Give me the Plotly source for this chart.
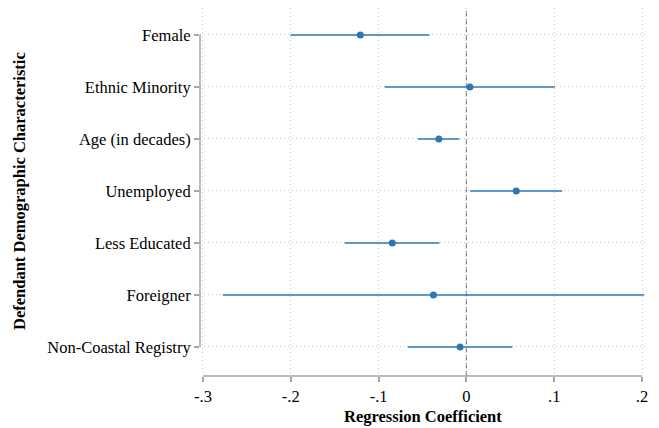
import plotly.graph_objects as go

categories = ["Female", "Ethnic Minority", "Age (in decades)", "Unemployed",
              "Less Educated", "Foreigner", "Non-Coastal Registry"]
estimates = [-0.1208, 0.0040, -0.0314, 0.0568, -0.0844, -0.0375, -0.0072]
ci_low = [-0.2003, -0.0930, -0.0553, 0.0042, -0.1386, -0.2773, -0.0670]
ci_high = [-0.0420, 0.1008, -0.0080, 0.1090, -0.0307, 0.2023, 0.0523]
x_ticks = [-0.3, -0.2, -0.1, 0.0, 0.1, 0.2]
x_tick_labels = ["-.3", "-.2", "-.1", "0", ".1", ".2"]

ypos = list(range(len(categories)))
blue = "#2a78b6"
axis_gray = "#a6a6a6"
font_family = "Liberation Serif, Times New Roman, serif"

fig = go.Figure()
fig.add_trace(go.Scatter(
    x=estimates, y=ypos, mode="markers",
    marker=dict(color=blue, size=7),
    error_x=dict(type="data", symmetric=False,
                 array=[h - e for h, e in zip(ci_high, estimates)],
                 arrayminus=[e - l for e, l in zip(estimates, ci_low)],
                 color=blue, thickness=1.5, width=0),
    showlegend=False, cliponaxis=True,
))

fig.update_layout(
    width=651, height=420,
    margin=dict(l=192, r=13, t=0, b=52, autoexpand=False),
    paper_bgcolor="white", plot_bgcolor="white",
    font=dict(family=font_family, size=16.5, color="black"),
    xaxis=dict(range=[-0.30341, 0.20455], tickvals=x_ticks, ticktext=x_tick_labels,
               showgrid=True, gridcolor="#c8c8c8", griddash="1px,3px", gridwidth=1,
               zeroline=False, showline=False, ticks="outside", ticklen=5,
               tickcolor=axis_gray, tickwidth=1.5, automargin=False),
    yaxis=dict(range=[6.558, -0.519], tickvals=ypos, ticktext=categories,
               showgrid=True, gridcolor="#c8c8c8", griddash="1px,3px", gridwidth=1,
               zeroline=False, showline=False, ticks="outside", ticklen=5,
               tickcolor=axis_gray, tickwidth=1.5, automargin=False),
    shapes=[
        dict(type="line", xref="x", yref="paper", x0=0, x1=0, y0=0, y1=1,
             line=dict(color="#808080", width=1.2, dash="5px,3px"), layer="below"),
        dict(type="line", xref="x", yref="paper", x0=-0.3, x1=0.2, y0=0, y1=0,
             line=dict(color=axis_gray, width=1.5)),
        dict(type="line", xref="paper", yref="y", x0=0, x1=0, y0=0, y1=6,
             line=dict(color=axis_gray, width=1.5)),
    ],
    annotations=[
        dict(text="<b>Regression Coefficient</b>", xref="paper", yref="paper",
             x=0.5, y=-0.1087, xanchor="center", yanchor="middle",
             showarrow=False, font=dict(size=16.5, family=font_family)),
        dict(text="<b>Defendant Demographic Characteristic</b>", xref="paper", yref="y",
             x=-0.4036, y=3, xanchor="center", yanchor="middle", textangle=-90,
             showarrow=False, font=dict(size=16.5, family=font_family)),
    ],
)

fig.write_html("out.html")
